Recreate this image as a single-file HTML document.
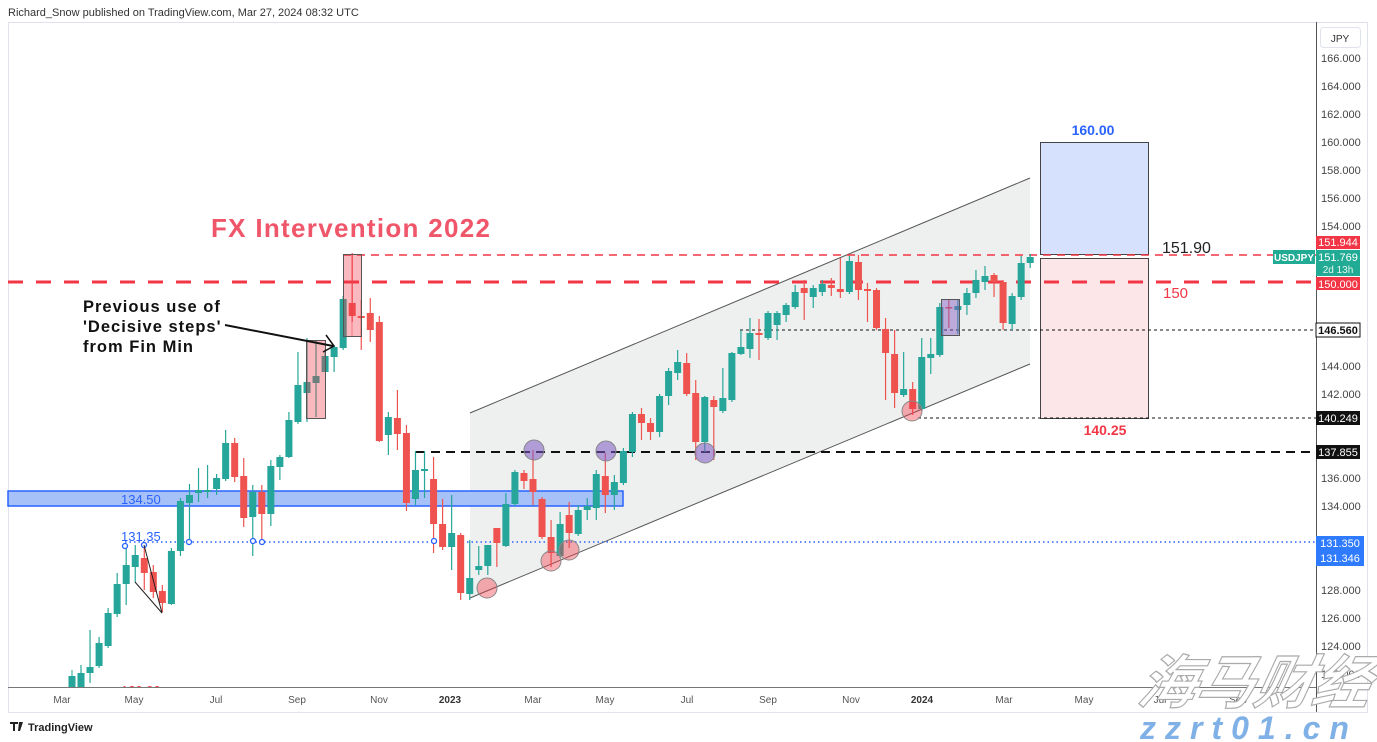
<!DOCTYPE html>
<html><head><meta charset="utf-8"><style>
body{margin:0;background:#fff;width:1377px;height:742px;overflow:hidden}
svg{display:block;font-family:"Liberation Sans","Noto Sans CJK SC",sans-serif}
</style></head><body>
<svg id="s" width="1377" height="742" viewBox="0 0 1377 742" xmlns="http://www.w3.org/2000/svg">
<defs><clipPath id="pl"><rect x="8" y="22" width="1308" height="665"/></clipPath></defs>
<rect width="1377" height="742" fill="#fff"/>
<text x="8" y="16" font-size="11" fill="#333">Richard_Snow published on TradingView.com, Mar 27, 2024 08:32 UTC</text>
<rect x="8.5" y="22.5" width="1359" height="690" fill="none" stroke="#e0e3eb"/>
<line x1="1316.5" y1="22" x2="1316.5" y2="712" stroke="#555"/>
<line x1="8" y1="687.5" x2="1316" y2="687.5" stroke="#777"/>
<polygon points="470,413 1030,178 1030,364 470,598" fill="#eef0ef" stroke="none"/>
<line x1="470" y1="413" x2="1030" y2="178" stroke="#555" stroke-width="1"/>
<line x1="470" y1="598" x2="1030" y2="364" stroke="#555" stroke-width="1"/>
<rect x="1040.5" y="142.5" width="108" height="112" fill="#d6e1fd" stroke="#444"/>
<rect x="1040.5" y="258.5" width="108" height="160" fill="#fde6e8" stroke="#444"/>
<text x="1093" y="135" font-size="14" fill="#2962ff" text-anchor="middle" font-weight="bold">160.00</text>
<text x="1105" y="435" font-size="14" fill="#f23645" text-anchor="middle" font-weight="bold">140.25</text>
<rect x="8" y="491" width="615" height="15" fill="#a6c1f7" stroke="#2962ff" stroke-width="1.5"/>
<text x="121" y="504" font-size="13" fill="#2962ff">134.50</text>
<line x1="8" y1="282" x2="1316" y2="282" stroke="#f23645" stroke-width="3" stroke-dasharray="15,13"/>
<line x1="343" y1="255" x2="1316" y2="255" stroke="#f23645" stroke-width="1.5" stroke-dasharray="8,6"/>
<line x1="416" y1="452" x2="1316" y2="452" stroke="#111" stroke-width="2" stroke-dasharray="9,6"/>
<line x1="740" y1="330" x2="1316" y2="330" stroke="#111" stroke-width="1" stroke-dasharray="3,3"/>
<line x1="918" y1="418" x2="1316" y2="418" stroke="#111" stroke-width="1" stroke-dasharray="3,3"/>
<line x1="125" y1="542" x2="1316" y2="542" stroke="#2962ff" stroke-width="1.5" stroke-dasharray="1.5,3"/>
<g id="c"></g>
<rect x="343.5" y="254.5" width="18" height="82" fill="rgba(242,54,69,0.35)" stroke="#555"/>
<line x1="352" y1="254" x2="352" y2="336" stroke="#f23645" stroke-opacity="0.5"/>
<rect x="306.5" y="340.5" width="19" height="78" fill="rgba(242,54,69,0.35)" stroke="#555"/>
<rect x="941.5" y="299.5" width="18" height="36" fill="rgba(126,87,194,0.45)" stroke="#555"/>
<g stroke="#888" stroke-width="1">
<circle cx="487" cy="588" r="10" fill="rgba(242,54,69,0.4)"/>
<circle cx="551" cy="561" r="10" fill="rgba(242,54,69,0.4)"/>
<circle cx="569" cy="550" r="10" fill="rgba(242,54,69,0.4)"/>
<circle cx="912" cy="411" r="10" fill="rgba(242,54,69,0.4)"/>
<circle cx="534" cy="450" r="10" fill="rgba(126,87,194,0.55)"/>
<circle cx="606" cy="451" r="10" fill="rgba(126,87,194,0.55)"/>
<circle cx="705" cy="453" r="10" fill="rgba(126,87,194,0.55)"/>
</g>
<g fill="#fff" stroke="#2962ff" stroke-width="1.3">
<circle cx="125" cy="546" r="2.5"/><circle cx="144" cy="545" r="2.5"/><circle cx="189" cy="542" r="2.5"/>
<circle cx="253" cy="541" r="2.5"/><circle cx="262" cy="542" r="2.5"/><circle cx="434" cy="541" r="2.5"/>
</g>
<text x="121" y="541" font-size="13" fill="#2962ff">131.35</text>
<polyline points="135,582 162,613 144,545" fill="none" stroke="#222" stroke-width="1"/>
<text font-size="16.5" font-weight="bold" fill="#111" letter-spacing="1"><tspan x="83" y="312">Previous use of</tspan><tspan x="83" y="332">'Decisive steps'</tspan><tspan x="83" y="352">from Fin Min</tspan></text>
<line x1="225" y1="325" x2="333" y2="346" stroke="#111" stroke-width="2"/>
<polyline points="326,335 334,346 323,352" fill="none" stroke="#111" stroke-width="1.5"/>
<text x="211" y="237" font-size="26" font-weight="bold" fill="#f0566a" letter-spacing="1.3">FX Intervention 2022</text>
<text x="1162" y="253" font-size="16" fill="#222">151.90</text>
<text x="1163" y="298" font-size="15" fill="#f23645">150</text>
<rect x="1320.5" y="27.5" width="40" height="20" rx="3" fill="#fff" stroke="#e0e3eb"/>
<text x="1340" y="42" font-size="10" fill="#333" text-anchor="middle">JPY</text>
<g id="ax" font-size="11" fill="#444"></g>
<rect x="1316" y="236" width="44" height="13" fill="#f23645"/><text x="1338" y="246" font-size="11" fill="#fff" text-anchor="middle">151.944</text>
<rect x="1273" y="250" width="42" height="14" fill="#22ab94"/><text x="1294" y="261" font-size="10" fill="#fff" text-anchor="middle" font-weight="bold">USDJPY</text>
<rect x="1316" y="250" width="44" height="26" fill="#22ab94"/><text x="1338" y="261" font-size="11" fill="#fff" text-anchor="middle">151.769</text><text x="1338" y="273" font-size="10" fill="#e8f5f1" text-anchor="middle">2d 13h</text>
<rect x="1316" y="277" width="44" height="13" fill="#f23645"/><text x="1338" y="288" font-size="11" fill="#fff" text-anchor="middle">150.000</text>
<rect x="1316" y="323" width="44" height="14" fill="#fff" stroke="#111"/><text x="1338" y="334" font-size="11" fill="#111" text-anchor="middle" font-weight="bold">146.560</text>
<rect x="1316" y="411" width="44" height="14" fill="#111"/><text x="1338" y="422" font-size="11" fill="#fff" text-anchor="middle">140.249</text>
<rect x="1316" y="445" width="44" height="14" fill="#111"/><text x="1338" y="456" font-size="11" fill="#fff" text-anchor="middle">137.855</text>
<rect x="1316" y="536" width="48" height="30" fill="#2f7bff"/><text x="1340" y="547" font-size="11" fill="#fff" text-anchor="middle">131.350</text><text x="1340" y="562" font-size="11" fill="#fff" text-anchor="middle">131.346</text>
<g font-size="10" fill="#555" text-anchor="middle">
<text x="62" y="703">Mar</text><text x="134" y="703">May</text><text x="216" y="703">Jul</text><text x="297" y="703">Sep</text><text x="379" y="703">Nov</text>
<text x="450" y="703" font-weight="bold" fill="#333">2023</text><text x="533" y="703">Mar</text><text x="605" y="703">May</text><text x="687" y="703">Jul</text><text x="768" y="703">Sep</text><text x="851" y="703">Nov</text>
<text x="922" y="703" font-weight="bold" fill="#333">2024</text><text x="1004" y="703">Mar</text><text x="1084" y="703">May</text><text x="1160" y="703">Jul</text><text x="1238" y="703">Sep</text>
</g>
<text x="121" y="695" font-size="13" fill="#f23645" clip-path="url(#pl)">129.90</text>
<text x="28" y="731" font-size="11" fill="#222" font-weight="bold">TradingView</text>
<path d="M10 722h8v2h-3v7h-2v-7h-3zM19 722h4l-3 9h-2z" fill="#222"/>
<text x="1000" y="703" font-size="58" font-style="italic" font-weight="bold" fill="#fff" stroke="#aaa" stroke-width="1.2" font-family="'Noto Sans CJK SC',sans-serif" transform="skewX(-12) translate(285,0)">海马财经</text>
<text x="1140" y="739" font-size="32" font-style="italic" font-weight="bold" fill="#7fb0e6" letter-spacing="9">zzrt01.cn</text>
</svg>
<script>
var d=[
['g',673,688,665,690],['g',667,673,630,683],['g',643,666,637,668],['g',613,646,608,648],['g',584,614,573,617],['g',565,584,545,605],['g',555,567,545,582],['r',558,573,545,590],['r',572,592,565,598],['r',591,603,585,612],
['g',551,604,548,605],['g',501,551,498,556],['g',495,503,484,542],['g',490,493,468,502],['g',490,492,465,498],['g',478,489,474,495],['g',443,479,430,481],['r',443,477,438,482],['r',476,518,458,527],['g',492,517,485,556],
['r',492,514,485,540],['g',466,514,460,526],['g',457,467,455,480],['g',420,457,412,458],['g',385,422,352,424],['g',382,393,338,422],['g',376,383,340,417],['g',356,372,352,372],['g',347,357,345,372],['g',299,348,296,350],
['r',303,316,253,322],['r',316,318,300,350],['r',313,330,298,342],['r',322,441,316,442],['g',417,435,412,455],['r',418,434,390,450],['r',433,503,425,511],['g',470,499,451,505],['g',469,471,451,498],['r',479,524,457,553],
['r',524,547,499,550],['g',533,547,495,570],['r',535,593,533,600],['g',578,594,540,600],['g',566,570,546,575],['g',545,566,545,575],['r',528,543,528,567],['g',504,546,493,547],['g',472,504,470,506],['r',473,481,470,489],
['r',479,492,450,505],['r',499,537,497,539],['r',537,553,520,567],['g',524,556,512,558],['r',515,533,502,548],['g',510,534,505,536],['g',506,510,498,520],['g',474,508,470,520],['r',476,495,453,513],['g',482,495,475,510],
['g',451,483,448,485],['g',414,452,412,457],['r',414,423,408,440],['r',423,432,418,440],['g',396,432,394,437],['g',371,396,368,405],['g',362,373,350,380],['r',363,394,353,396],['r',393,442,380,460],['g',397,442,396,452],
['r',400,407,396,460],['g',398,411,368,413],['g',353,400,352,402],['g',347,354,330,355],['g',333,349,318,358],['r',333,335,319,360],['g',313,338,311,340],['g',313,325,311,340],['g',305,315,303,322],['g',292,307,285,309],
['r',288,293,280,320],['g',288,297,285,308],['g',284,292,280,296],['r',285,288,278,296],['r',289,292,258,298],['g',261,292,256,294],['r',262,290,255,300],['r',289,291,283,322],['r',290,328,288,330],['r',329,353,318,400],
['r',354,393,330,408],['g',389,395,352,397],['r',389,409,382,415],['g',357,409,338,411],['g',354,358,338,374],['g',307,355,303,357],['r',307,308,300,328],['g',306,310,300,334],['g',293,305,288,315],['g',280,293,270,298],
['g',276,282,266,290],['r',275,282,273,297],['r',282,323,280,330],['g',296,324,293,330],['g',263,297,256,300],['g',257,263,254,268]];
var g=document.getElementById('c'),h='';
d.forEach(function(c,i){var x=81+i*9.04,col=c[0]=='g'?'#26a69a':'#ef5350';var lo=Math.min(c[4],687);var b2=Math.min(c[2],687);
h+='<line x1="'+x+'" y1="'+c[3]+'" x2="'+x+'" y2="'+lo+'" stroke="'+col+'" stroke-width="1.2"/>';
h+='<rect x="'+(x-3.5)+'" y="'+c[1]+'" width="7" height="'+Math.max(1.5,b2-c[1])+'" fill="'+col+'"/>';});
h+='<line x1="72" y1="670" x2="72" y2="687" stroke="#26a69a"/><rect x="68.5" y="676" width="7" height="11" fill="#26a69a"/>';
g.innerHTML=h;
var a='',skip={152:1,150:1,148:1,146:1,140:1,138:1,132:1,130:1};
for(var p=166;p>=122;p-=2){if(skip[p])continue;var y=58+(166-p)*14;a+='<text x="1321" y="'+(y+4)+'">'+p+'.000</text>';}
document.getElementById('ax').innerHTML=a;
</script>
</body></html>
